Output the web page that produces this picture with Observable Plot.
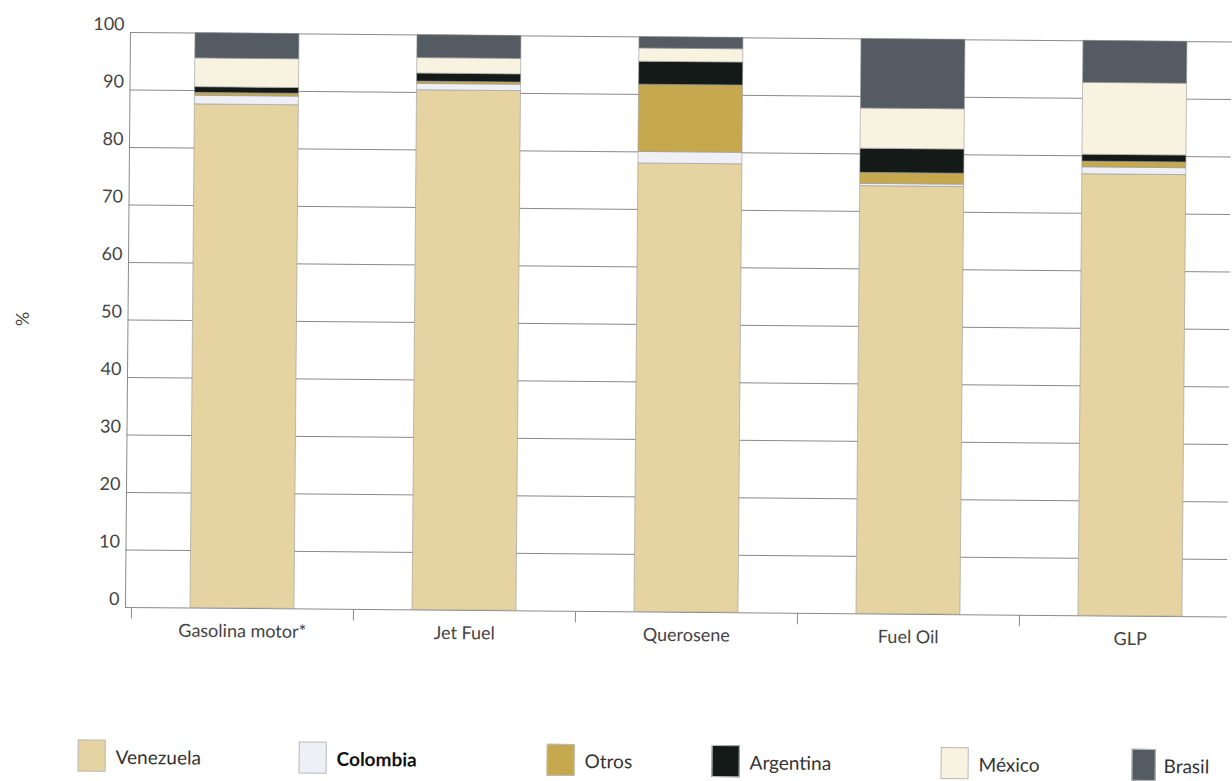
<!DOCTYPE html>
<html>
<head>
<meta charset="utf-8">
<script src="https://cdn.jsdelivr.net/npm/d3@7"></script>
<script src="https://cdn.jsdelivr.net/npm/@observablehq/plot@0.6"></script>
<style>
  html, body { margin: 0; padding: 0; background: #fff; }
  #wrap { position: relative; width: 1232px; height: 781px; overflow: hidden; transform: rotate(0.5deg); transform-origin: 130px 32px; }
  #chart { position: absolute; left: 0; top: 0; }
  .leg { position: absolute; display: flex; align-items: center; font-family: Lato, "Open Sans", sans-serif; font-size: 19px; color: #333; }
  .sw { width: 28px; height: 32px; border: 1px solid #bbb; margin-right: 10px; box-sizing: border-box; }
</style>
</head>
<body>
<div id="wrap">
  <div id="chart"></div>
  <div id="legend"></div>
</div>
<script>
const categories = ["Gasolina motor*", "Jet Fuel", "Querosene", "Fuel Oil", "GLP"];
const seriesNames = ["Venezuela", "Colombia", "Otros", "Argentina", "México", "Brasil"];
const venezuela = [87.6, 90.4, 78.0, 74.4, 76.8];
const colombia  = [1.5, 1.1, 2.0, 0.4, 1.2];
const otros     = [0.5, 0.4, 11.7, 1.9, 1.0];
const argentina = [1.0, 1.4, 4.0, 4.2, 1.2];
const mexico    = [5.0, 2.7, 2.3, 7.0, 12.5];
const brasil    = [4.4, 4.0, 2.0, 12.1, 7.3];
const yTicks = [0, 10, 20, 30, 40, 50, 60, 70, 80, 90, 100];
const colors = ["#e6d3a2", "#eef0f6", "#c6a84f", "#141a17", "#f8f3e0", "#545b63"];

const seriesValues = [venezuela, colombia, otros, argentina, mexico, brasil];
const rows = [];
seriesNames.forEach((s, i) => categories.forEach((c, j) => rows.push({category: c, series: s, value: seriesValues[i][j]})));

const chart = Plot.plot({
  width: 1232,
  height: 660,
  marginLeft: 130,
  marginRight: 0,
  marginTop: 32,
  marginBottom: 53,
  style: {fontFamily: "Lato, 'Open Sans', sans-serif", fontSize: "18px", color: "#333", background: "#fff"},
  x: {domain: categories, range: [136, 1247], paddingInner: 0.53, paddingOuter: 0.265, label: null},
  y: {domain: [0, 100], label: null},
  color: {domain: seriesNames, range: colors},
  marks: [
    Plot.ruleY(yTicks, {stroke: "#8a8a8a", strokeWidth: 1}),
    Plot.barY(rows, Plot.stackY({order: seriesNames}, {x: "category", y: "value", fill: "series", z: "series", stroke: "#9a9a9a", strokeWidth: 0.6})),
    Plot.frame({anchor: "left", stroke: "#8a8a8a"}),
    Plot.ruleX(categories, {x: d => d, dx: -111, y1: 0, y2: -2, stroke: "#8a8a8a"}),
    Plot.axisY(yTicks, {tickSize: 0, tickPadding: 6, dy: -8, fontSize: 18, fill: "#444", label: "%", labelAnchor: "center", labelArrow: "none", labelOffset: 112}),
    Plot.axisX({tickSize: 0, tickPadding: 16, fontSize: 18, fill: "#444", label: null})
  ]
});
document.getElementById("chart").appendChild(chart);

const legendX = [84, 305, 553, 718, 947, 1138];
const legend = document.getElementById("legend");
seriesNames.forEach((s, i) => {
  const d = document.createElement("div");
  d.className = "leg";
  d.style.left = legendX[i] + "px";
  d.style.top = "740px";
  const sw = document.createElement("div");
  sw.className = "sw";
  sw.style.background = colors[i];
  if (s === "Brasil") { sw.style.width = "24px"; sw.style.marginRight = "8px"; }
  const t = document.createElement("span");
  t.textContent = s;
  if (s === "Colombia") { t.style.fontWeight = "bold"; t.style.color = "#111"; }
  d.appendChild(sw); d.appendChild(t);
  legend.appendChild(d);
});
</script>
</body>
</html>
